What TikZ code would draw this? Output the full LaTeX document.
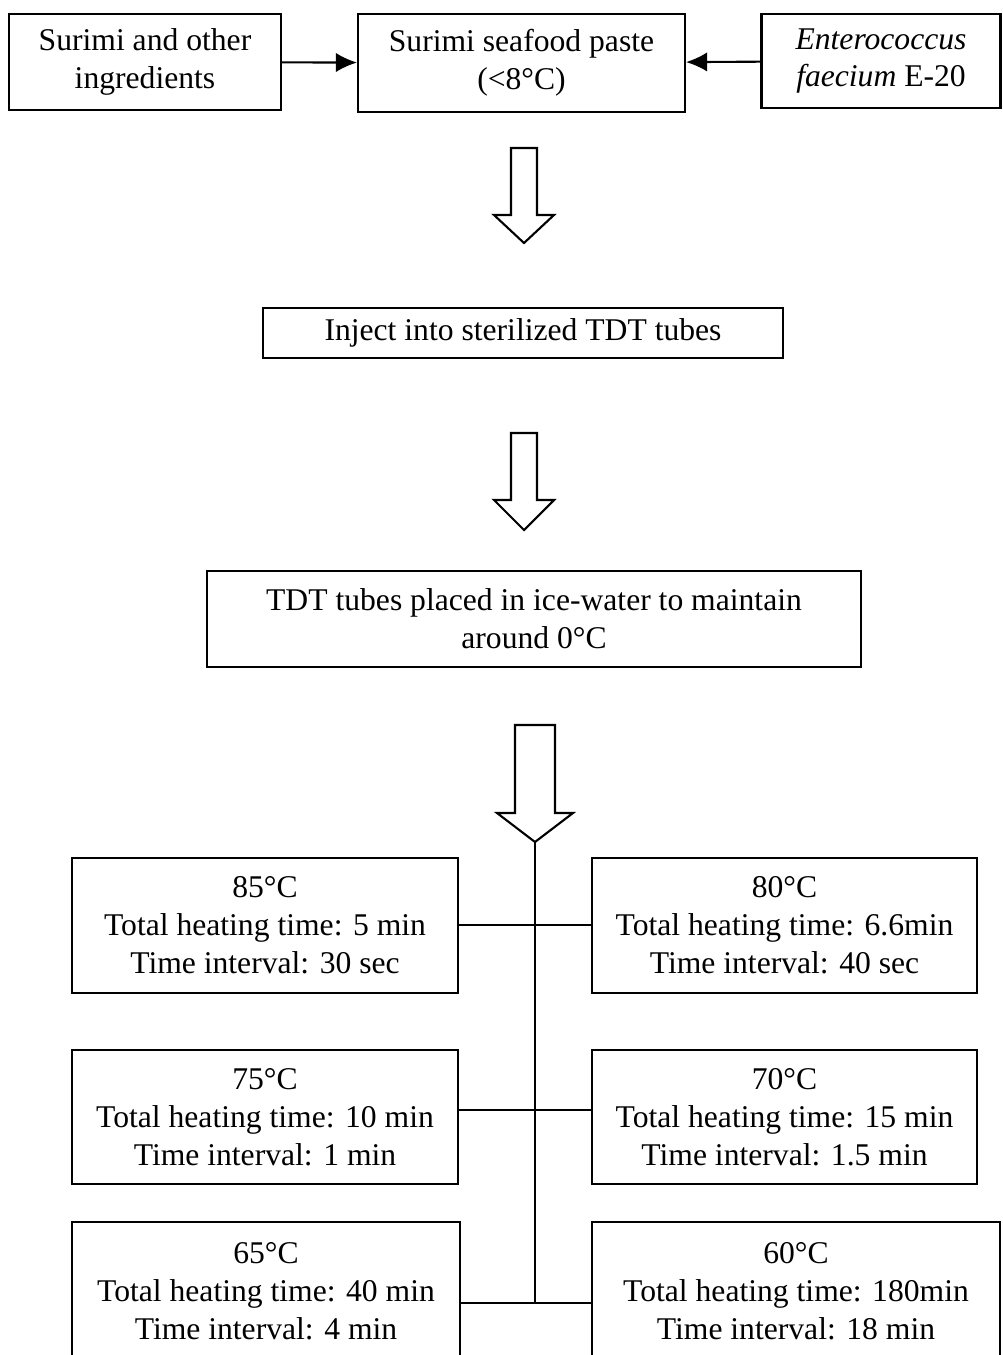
\documentclass[tikz,border=0pt]{standalone}
\usepackage{fontspec}
\setmainfont{Liberation Serif}
\usetikzlibrary{arrows.meta}
\pgfdeclarelayer{edgelayer}
\pgfdeclarelayer{nodelayer}
\pgfsetlayers{edgelayer,nodelayer,main}
\tikzstyle{stage}=[rectangle,draw=black,fill=white,line width=1.2pt,align=center,inner sep=0pt,font=\fontsize{18}{21.6}\selectfont]
\tikzstyle{feed}=[-{Latex[length=12pt,width=11pt]},draw=black,line width=1.2pt]
\tikzstyle{hollow}=[draw=black,fill=white,line width=1.2pt,line join=miter]
\tikzstyle{branch}=[draw=black,line width=1.2pt]

\begin{document}
\begin{tikzpicture}[x=0.02cm,y=-0.02cm]
	\useasboundingbox (0,0) rectangle (1003,1355);
	\begin{pgfonlayer}{nodelayer}
		\node [style=stage, minimum width=5.44cm, minimum height=1.92cm] (0) at (145, 62) {Surimi and other\\ingredients};
		\node [style=stage, minimum width=6.54cm, minimum height=1.96cm] (1) at (521.5, 63) {Surimi seafood paste\\(<8°C)};
		\node [style=stage, minimum width=4.78cm, minimum height=1.88cm] (2) at (881, 61) {\textit{Enterococcus}\\\textit{faecium} E-20};
		\node [style=stage, minimum width=10.4cm, minimum height=1.0cm] (3) at (523, 333) {Inject into sterilized TDT tubes};
		\node [style=stage, minimum width=13.08cm, minimum height=1.92cm] (4) at (534, 619) {TDT tubes placed in ice-water to maintain\\around 0°C};
		\node [style=stage, minimum width=7.72cm, minimum height=2.7cm] (5) at (265, 925.5) {85°C\\Total heating time: 5 min\\Time interval: 30 sec};
		\node [style=stage, minimum width=7.7cm, minimum height=2.7cm] (6) at (784.5, 925.5) {80°C\\Total heating time: 6.6min\\Time interval: 40 sec};
		\node [style=stage, minimum width=7.72cm, minimum height=2.68cm] (7) at (265, 1117) {75°C\\Total heating time: 10 min\\Time interval: 1 min};
		\node [style=stage, minimum width=7.7cm, minimum height=2.68cm] (8) at (784.5, 1117) {70°C\\Total heating time: 15 min\\Time interval: 1.5 min};
		\node [style=stage, minimum width=7.76cm, minimum height=2.76cm] (9) at (266, 1291) {65°C\\Total heating time: 40 min\\Time interval: 4 min};
		\node [style=stage, minimum width=8.16cm, minimum height=2.76cm] (10) at (796, 1291) {60°C\\Total heating time: 180min\\Time interval: 18 min};
	\end{pgfonlayer}
	\begin{pgfonlayer}{edgelayer}
		\draw [style=feed] (0) to (1);
		\draw [style=feed] (2) to (1);
		% hollow block arrows between the stages
		\coordinate (a1) at (524, 148);
		\coordinate (a2) at (524, 433);
		\coordinate (a3) at (535, 725);
		\draw [style=hollow] (a1) ++(-13,0) -- ++(0,67) -- ++(-17,0) -- ++(30,28) -- ++(30,-28) -- ++(-17,0) -- ++(0,-67) -- cycle;
		\draw [style=hollow] (a2) ++(-13,0) -- ++(0,67) -- ++(-17,0) -- ++(30,30) -- ++(30,-30) -- ++(-17,0) -- ++(0,-67) -- cycle;
		\draw [style=hollow] (a3) ++(-20,0) -- ++(0,88) -- ++(-18,0) -- ++(38,29) -- ++(38,-29) -- ++(-18,0) -- ++(0,-88) -- cycle;
		% trunk and branches to the heating boxes
		\coordinate (tip) at (535, 842);
		\coordinate (j1) at (535, 925);
		\coordinate (j2) at (535, 1110);
		\coordinate (j3) at (535, 1303);
		\draw [style=branch] (tip) -- (j3);
		\draw [style=branch] (j1 -| 5.east) -- (j1 -| 6.west);
		\draw [style=branch] (j2 -| 7.east) -- (j2 -| 8.west);
		\draw [style=branch] (j3 -| 9.east) -- (j3 -| 10.west);
	\end{pgfonlayer}
\end{tikzpicture}
\end{document}
